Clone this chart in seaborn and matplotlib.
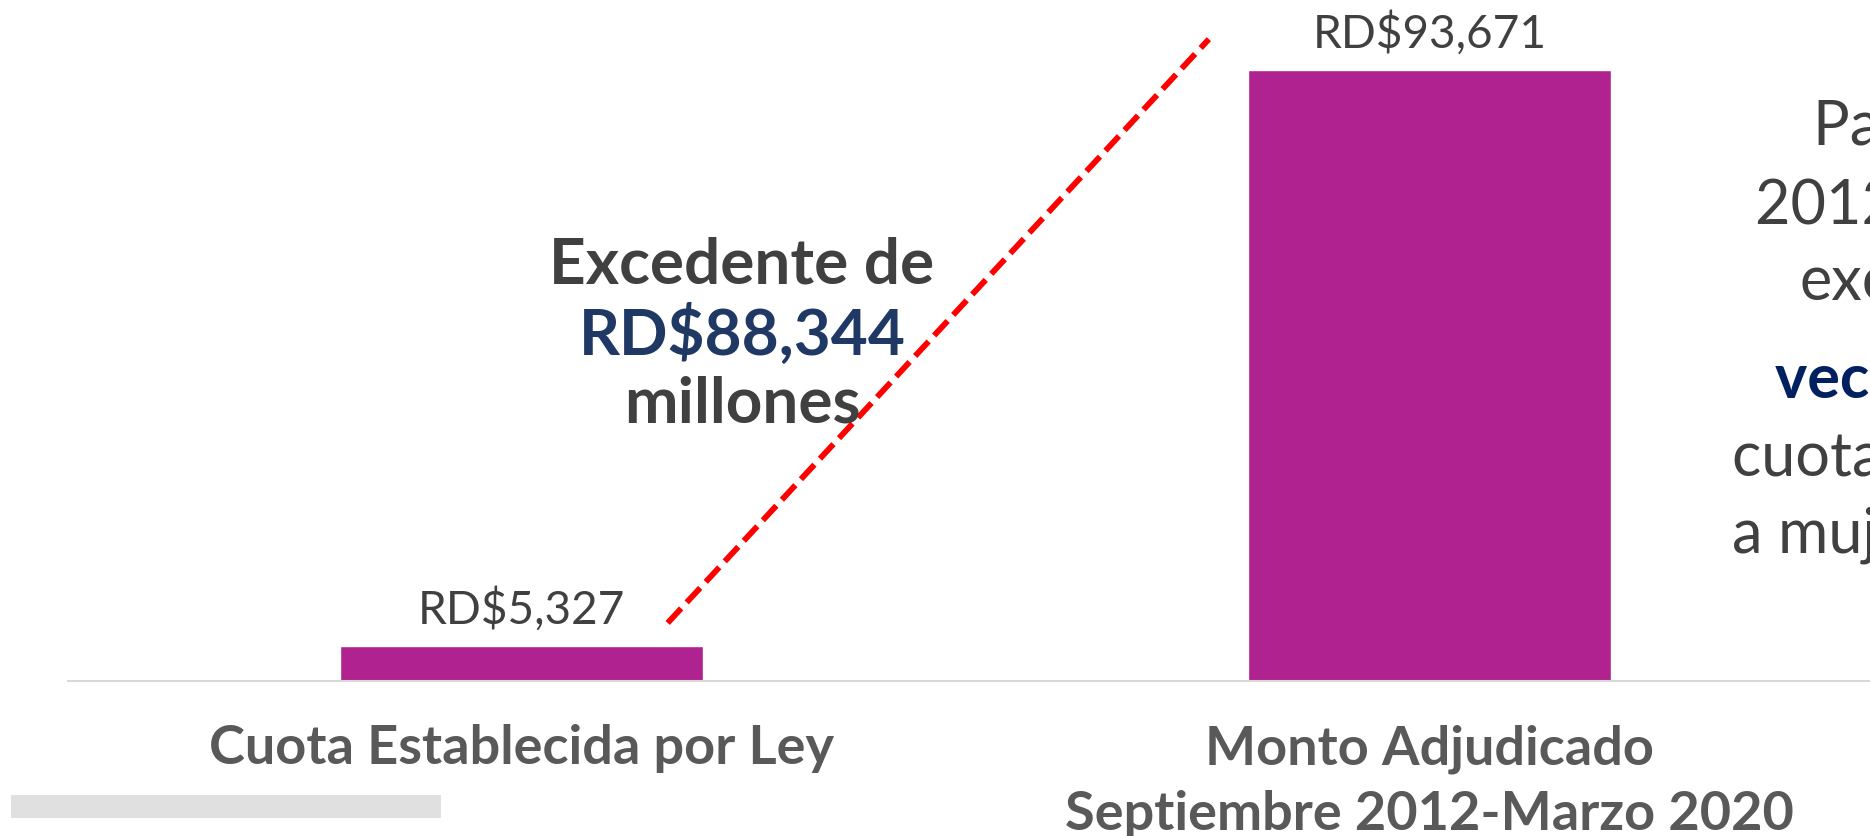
import pandas as pd
import seaborn as sns
from matplotlib import pyplot as plt
from matplotlib.patches import Rectangle

#%% DATA
categorias = ['Cuota Establecida por Ley', 'Monto Adjudicado\nSeptiembre 2012-Marzo 2020']
montos = [5327, 93671]
excedente = 88344
nota_lineas = ['Para el período', '2012-2020 se ha', 'excedido', 'veces la', 'cuota destinada', 'a mujeres']

df = pd.DataFrame({'categoria': categorias, 'monto': montos})

#%% STYLE
sns.set_style('white')
plt.rcParams['font.family'] = ['Lato', 'DejaVu Sans']

morado = '#B0228F'
gris_txt = '#404040'
gris_cat = '#595959'
azul = '#1F3864'
navy = '#002060'

W, H = 1870, 836
fig = plt.figure(figsize=(W / 100, H / 100), dpi=100)
ax = fig.add_axes([67.5 / W, 155 / H, 1816 / W, 681 / H])

#%% BARS
sns.barplot(data=df, x='categoria', y='monto', color=morado, saturation=1,
            width=0.4, ax=ax)
ax.set_xlim(-0.5, 1.5)
ax.set_ylim(0, max(montos) * 681 / 611)

for s in ['left', 'right', 'top']:
    ax.spines[s].set_visible(False)
ax.spines['bottom'].set_color('#d9d9d9')
ax.spines['bottom'].set_linewidth(1.5)
ax.set_yticks([])
ax.set_xlabel('')
ax.set_ylabel('')
ax.tick_params(axis='x', length=0, pad=31, labelsize=39, labelcolor=gris_cat)
for lab in ax.get_xticklabels():
    lab.set_fontweight('bold')
    lab.set_linespacing(1.4)

# value labels
for i, v in enumerate(montos):
    ax.annotate(f'RD${v:,}', xy=(i, v), xytext=(0, 16), textcoords='offset points',
                ha='center', va='baseline', fontsize=33, color=gris_txt)

#%% dashed red line
ax.plot([0.161, 0.757], [8900, 98400], color='red', lw=4.2, ls=(0, (3.4, 1.4)),
        solid_capstyle='butt', clip_on=False)

#%% excedente annotation
fig.text(742 / W, 1 - 283 / H, 'Excedente de', ha='center', va='baseline',
         fontsize=46, fontweight='bold', color=gris_txt)
fig.text(742 / W, 1 - 355 / H, f'RD${excedente:,}', ha='center', va='baseline',
         fontsize=46, fontweight='bold', color=azul)
fig.text(742 / W, 1 - 423 / H, 'millones', ha='center', va='baseline',
         fontsize=46, fontweight='bold', color=gris_txt)

#%% side note (cut off by the slide edge)
xs = [1813, 1755, 1800, 1775, 1732, 1732]
ys = [145, 223, 300, 398, 475, 553]
for txt, x, y in zip(nota_lineas, xs, ys):
    bold = txt.startswith('veces')
    fig.text(x / W, 1 - y / H, txt, ha='left', va='baseline', fontsize=44,
             fontweight='bold' if bold else 'normal', color=navy if bold else gris_txt)

#%% gray strip bottom-left
fig.patches.append(Rectangle((11 / W, 18 / H), 430 / W, 23 / H, transform=fig.transFigure,
                             facecolor='#e0e0e0', edgecolor='none'))

fig.savefig('out.png', dpi=100)
